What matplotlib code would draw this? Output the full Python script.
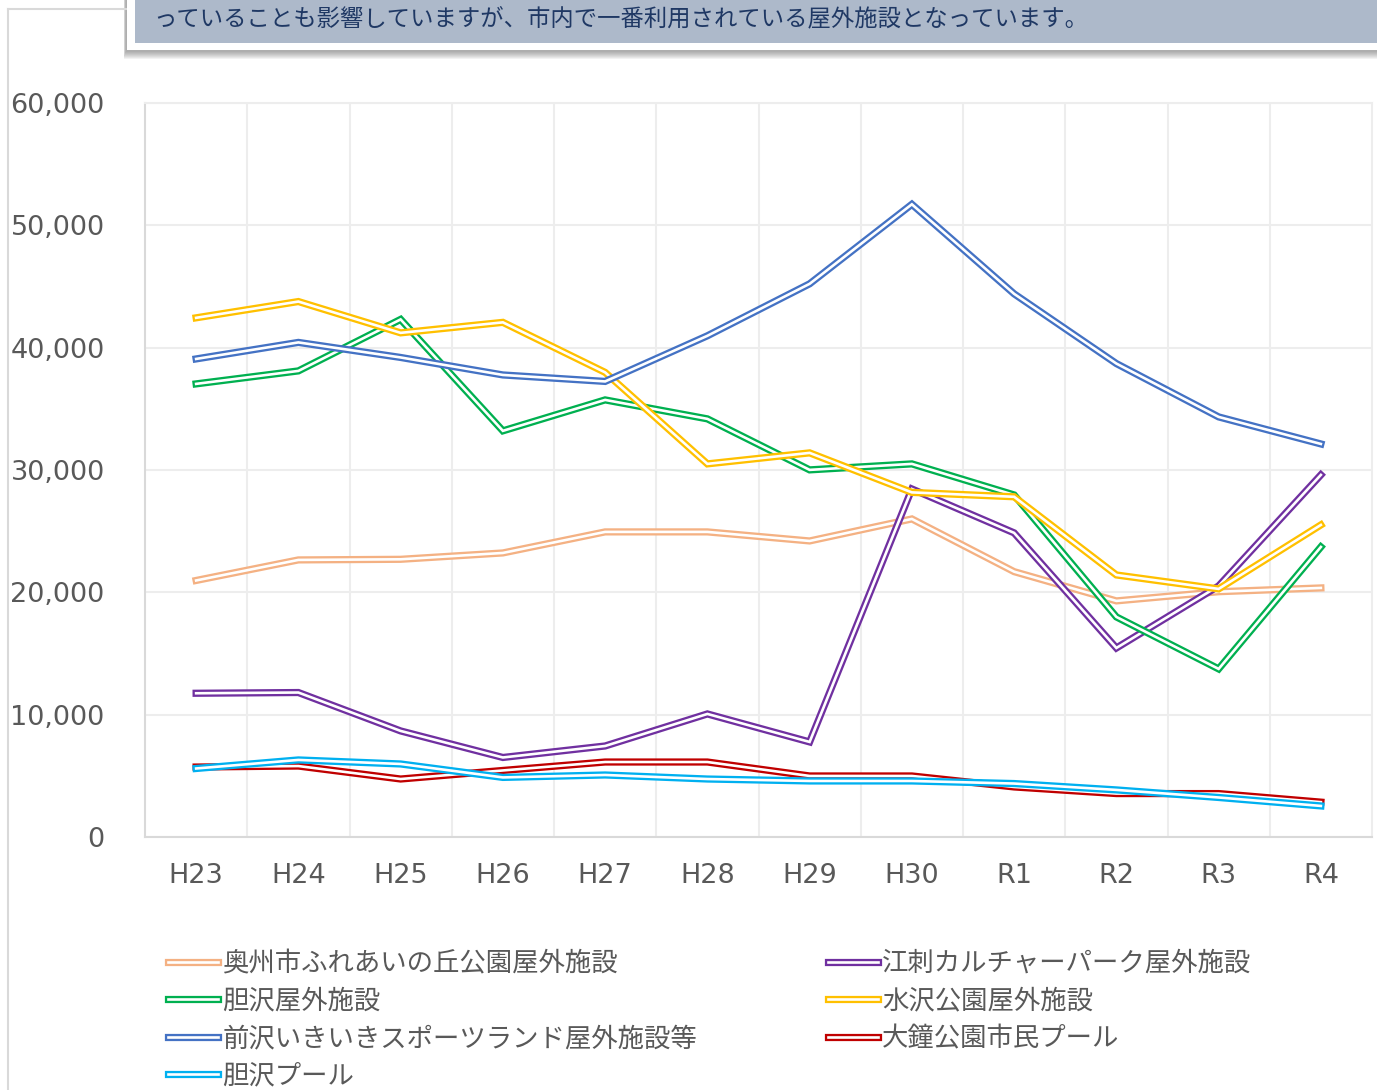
import matplotlib
matplotlib.use("Agg")
import matplotlib.pyplot as plt
import matplotlib.patheffects as pe
from matplotlib.patches import Rectangle
from matplotlib.lines import Line2D

# ---- data ----
years = ["H23", "H24", "H25", "H26", "H27", "H28", "H29", "H30", "R1", "R2", "R3", "R4"]

names = ["奥州市ふれあいの丘公園屋外施設", "江刺カルチャーパーク屋外施設", "胆沢屋外施設",
         "水沢公園屋外施設", "前沢いきいきスポーツランド屋外施設等", "大鐘公園市民プール", "胆沢プール"]

fureai   = [20970, 22650, 22700, 23220, 24940, 24940, 24200, 26000, 21690, 19300, 20050, 20360]
esashi   = [11750, 11810, 8670, 6500, 7440, 10060, 7770, 28450, 24860, 15450, 20520, 29600]
isawa    = [37040, 38100, 42310, 33200, 35730, 34180, 30010, 30500, 27960, 17990, 13740, 23710]
mizusawa = [42440, 43770, 41210, 42070, 37980, 30500, 31400, 28170, 27810, 21420, 20280, 25510]
maesawa  = [39080, 40430, 39200, 37770, 37240, 40970, 45220, 51720, 44400, 38700, 34340, 32130]
ogane    = [5720, 5800, 4740, 5440, 6130, 6130, 4990, 4990, 4090, 3550, 3550, 2850]
isawa_pool = [5600, 6300, 5970, 4870, 5070, 4740, 4580, 4580, 4370, 3850, 3230, 2540]

series = [fureai, esashi, isawa, mizusawa, maesawa, ogane, isawa_pool]
colors = ["#F4B183", "#7030A0", "#00B050", "#FFC000", "#4472C4", "#C00000", "#00B0F0"]

yticks = [0, 10000, 20000, 30000, 40000, 50000, 60000]
banner_text = "っていることも影響していますが、市内で一番利用されている屋外施設となっています。"

# ---- figure ----
W, H = 1377, 1090
fig = plt.figure(figsize=(W / 100, H / 100), dpi=100)
fig.patch.set_facecolor("white")

def fx(px):
    return px / W

def fy(py):
    return 1 - py / H

cjk = ["Noto Sans CJK JP", "DejaVu Sans"]

# outer frame lines (left border + top-left)
fig.add_artist(Line2D([fx(8), fx(8)], [fy(9), fy(1090)], color="#D9D9D9", lw=1.5,
                      transform=fig.transFigure))
fig.add_artist(Line2D([fx(8), fx(128)], [fy(9), fy(9)], color="#D9D9D9", lw=1.5,
                      transform=fig.transFigure))

# banner shadow (soft)
for i in range(8):
    bottom = 50 + 9 - i
    fig.add_artist(Rectangle((fx(126 - (8 - i) * 0.3), fy(bottom)), fx(W + 20), fy(0) - fy(bottom),
                             transform=fig.transFigure, facecolor="#505050", alpha=0.07,
                             edgecolor="none", zorder=1))
# banner white border and fill
fig.add_artist(Rectangle((fx(127), fy(50)), fx(W), fy(-5) - fy(50),
                         transform=fig.transFigure, facecolor="white", edgecolor="none", zorder=2))
fig.add_artist(Rectangle((fx(135), fy(43)), fx(W), fy(-5) - fy(43),
                         transform=fig.transFigure, facecolor="#ADB9CA", edgecolor="none", zorder=3))
fig.text(fx(153), fy(19), banner_text, family=cjk, fontsize=16.8, color="#1F3864",
         va="center", ha="left", zorder=4)

# ---- axes ----
ax = fig.add_axes([fx(145), fy(837), fx(1372) - fx(145), fy(103) - fy(837)])
x = list(range(len(years)))

for vals, c, n in zip(series, colors, names):
    ln, = ax.plot(x, vals, color=c, lw=5, label=n, solid_joinstyle="miter", zorder=3)
    ln.set_path_effects([pe.Stroke(linewidth=5.2, foreground=c, joinstyle="miter"),
                         pe.Stroke(linewidth=1.9, foreground="white", joinstyle="miter")])

ax.set_xlim(-0.5, len(years) - 0.5)
ax.set_ylim(0, 60000)
ax.set_yticks(yticks)
ax.set_yticklabels([f"{v:,}" for v in yticks])
ax.set_xticks(x)
ax.set_xticklabels(years)
ax.set_xticks([i + 0.5 for i in range(len(years) - 1)], minor=True)

ax.grid(True, axis="y", which="major", color="#EDEDED", lw=1.5)
ax.grid(True, axis="x", which="minor", color="#EDEDED", lw=1.5)
ax.set_axisbelow(True)

ax.tick_params(axis="both", which="both", length=0)
ax.tick_params(axis="y", pad=29, labelsize=19.5, labelcolor="#595959")
ax.tick_params(axis="x", pad=19, labelsize=19.5, labelcolor="#595959")
for lab in ax.get_xticklabels() + ax.get_yticklabels():
    lab.set_family("DejaVu Sans")

ax.spines["left"].set_color("#D9D9D9")
ax.spines["bottom"].set_color("#D9D9D9")
ax.spines["left"].set_linewidth(1.5)
ax.spines["bottom"].set_linewidth(1.5)
ax.spines["top"].set_color("#EDEDED")
ax.spines["right"].set_color("#EDEDED")
ax.spines["top"].set_linewidth(1.5)
ax.spines["right"].set_linewidth(1.5)

# ---- legends (row-major order in two columns) ----
handles, labels = ax.get_legend_handles_labels()
col1 = [0, 2, 4, 6]
col2 = [1, 3, 5]

common = dict(frameon=False, handlelength=1.9, handletextpad=0.15,
              labelspacing=0.40, borderpad=0, borderaxespad=0,
              prop={"family": cjk, "size": 19}, labelcolor="#595959")

leg1 = fig.legend([handles[i] for i in col1], [labels[i] for i in col1],
                  loc="upper left", bbox_to_anchor=(fx(168), fy(950)), **common)
leg2 = fig.legend([handles[i] for i in col2], [labels[i] for i in col2],
                  loc="upper left", bbox_to_anchor=(fx(828), fy(950)), **common)

fig.savefig("out.png", dpi=100, facecolor="white")
